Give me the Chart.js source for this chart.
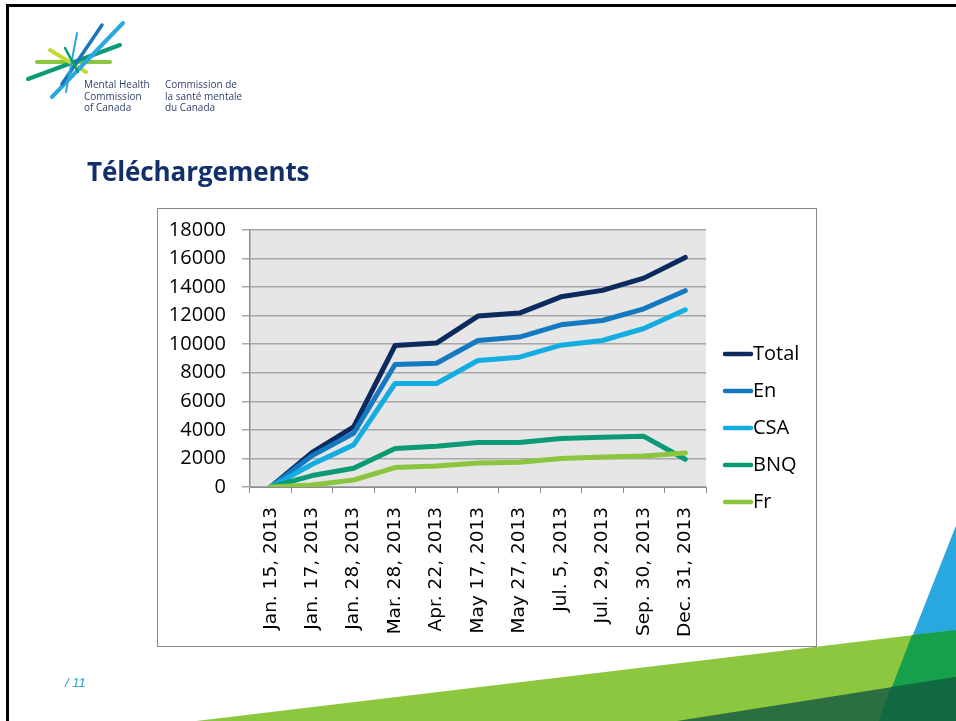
<!DOCTYPE html>
<html>
<head>
<meta charset="utf-8">
<script src="https://cdn.jsdelivr.net/npm/chart.js@4.4.0/dist/chart.umd.min.js"></script>
<style>
  body { margin: 0; width: 956px; height: 721px; overflow: hidden; background: #fff; position: relative; font-family: 'Open Sans', sans-serif; }
  #deco { position: absolute; left: 0; top: 0; }
  #frame { position: absolute; left: 6px; top: 4px; width: 970px; height: 740px; border-left: 3px solid #000; border-top: 3px solid #000; }
  .logoText { position: absolute; top: 79px; font-size: 10px; line-height: 11.5px; color: #2f3f6c; white-space: nowrap; }
  #title { position: absolute; left: 87px; top: 153px; font-size: 26px; font-weight: bold; color: #11306a; white-space: nowrap; letter-spacing: -0.1px; }
  #pageNum { position: absolute; left: 65px; top: 675px; font-family: 'Liberation Sans', sans-serif; font-style: italic; font-size: 13px; color: #2a9fd8; }
  #chartBox { position: absolute; left: 157px; top: 208px; width: 658px; height: 437px; border: 1px solid #8a8a8a; background: #fff; }
</style>
</head>
<body>
<canvas id="deco" width="956" height="721"></canvas>
<div id="frame"></div>
<div class="logoText" style="left:84px">Mental Health<br>Commission<br>of Canada</div>
<div class="logoText" style="left:165px">Commission de<br>la santé mentale<br>du Canada</div>
<div id="title">Téléchargements</div>
<div id="pageNum">/ 11</div>
<div id="chartBox"><canvas id="myChart" width="658" height="437"></canvas></div>

<script>
// dates of each download count
const categories = ["Jan. 15, 2013", "Jan. 17, 2013", "Jan. 28, 2013", "Mar. 28, 2013", "Apr. 22, 2013",
  "May 17, 2013", "May 27, 2013", "Jul. 5, 2013", "Jul. 29, 2013", "Sep. 30, 2013", "Dec. 31, 2013"];

const seriesNames = ["Total", "En", "CSA", "BNQ", "Fr"];
const seriesColors = ["#0b2a5e", "#1479c0", "#14ade2", "#0b9a76", "#8cc63f"];

const totalValues = [0, 2430, 4210, 9910, 10080, 11970, 12180, 13320, 13770, 14630, 16080];
const enValues = [0, 2200, 3760, 8580, 8670, 10260, 10500, 11360, 11660, 12480, 13750];
const csaValues = [0, 1590, 2950, 7250, 7250, 8860, 9090, 9930, 10260, 11100, 12410];
const bnqValues = [0, 800, 1310, 2690, 2850, 3110, 3110, 3390, 3480, 3550, 1940];
const frValues = [0, 140, 490, 1360, 1470, 1680, 1730, 1990, 2100, 2170, 2380];

const yMin = 0;
const yMax = 18000;
const yStep = 2000;

function main() {
  drawDecoration();
  drawChart();
}

//--SLIDE DECORATION------------------------------------------------------------
function drawDecoration() {
  const c = document.getElementById("deco").getContext("2d");

  // logo rays
  const rays = [
    ["#8cc63f", 4, 37, 62, 110, 62],
    ["#0b9a76", 4, 28, 79, 120, 45],
    ["#c7d931", 4, 50, 50, 86, 72],
    ["#29a8e0", 4, 52, 97, 123, 23],
    ["#1b75bb", 3.5, 62, 84, 102, 25],
    ["#29a8e0", 2, 77, 33, 66, 92],
    ["#0b9a76", 2.5, 65, 48, 78, 72],
  ];
  c.lineCap = "round";
  rays.forEach((r) => {
    c.strokeStyle = r[0];
    c.lineWidth = r[1];
    c.beginPath();
    c.moveTo(r[2], r[3]);
    c.lineTo(r[4], r[5]);
    c.stroke();
  });

  // bottom right shapes
  const shapes = [
    ["#29a8e0", [[966, 500], [970, 721], [879, 721]]],
    ["#8dc63f", [[196, 721], [956, 630], [956, 721]]],
    ["#15a049", [[912, 635], [956, 630], [956, 721], [879, 721]]],
    ["#2b6e42", [[677, 721], [956, 677], [956, 721]]],
    ["#116a42", [[891, 687], [956, 677], [956, 721], [879, 721]]],
  ];
  shapes.forEach((s) => {
    c.fillStyle = s[0];
    c.beginPath();
    s[1].forEach((p, i) => (i === 0 ? c.moveTo(p[0], p[1]) : c.lineTo(p[0], p[1])));
    c.closePath();
    c.fill();
  });
}

//--CHART---------------------------------------------------------------------
const plotBackground = {
  id: "plotBackground",
  beforeDraw(chart) {
    const a = chart.chartArea;
    chart.ctx.save();
    chart.ctx.fillStyle = "#e6e6e6";
    chart.ctx.fillRect(a.left, a.top, a.right - a.left, a.bottom - a.top);
    chart.ctx.restore();
  },
};

const sideLegend = {
  id: "sideLegend",
  afterDraw(chart) {
    const c = chart.ctx;
    c.save();
    c.font = '20px "Open Sans"';
    c.textBaseline = "middle";
    chart.data.datasets.forEach((ds, i) => {
      let y = 145 + i * 37;
      c.strokeStyle = ds.borderColor;
      c.lineWidth = 4.5;
      c.lineCap = "round";
      c.beginPath();
      c.moveTo(567, y);
      c.lineTo(593, y);
      c.stroke();
      c.fillStyle = "#000";
      c.fillText(ds.label, 595, y);
    });
    c.restore();
  },
};

function drawChart() {
  const allValues = [totalValues, enValues, csaValues, bnqValues, frValues];
  let myDatasets = [];
  for (let i = 0; i < seriesNames.length; i++) {
    myDatasets.push({
      label: seriesNames[i],
      data: allValues[i],
      borderColor: seriesColors[i],
      backgroundColor: seriesColors[i],
      order: seriesNames.length - i,
    });
  }

  const ctx = document.getElementById("myChart").getContext("2d");
  new Chart(ctx, {
    type: "line",
    data: { labels: categories, datasets: myDatasets },
    options: {
      responsive: false,
      animation: false,
      layout: { padding: { top: 21, right: 110, left: 0, bottom: 0 } },
      plugins: { legend: { display: false }, tooltip: { enabled: false } },
      elements: {
        point: { radius: 0 },
        line: { borderWidth: 5, tension: 0, borderJoinStyle: "round", borderCapStyle: "round" },
      },
      scales: {
        x: {
          offset: true,
          grid: { offset: true, drawOnChartArea: false, tickLength: 6, color: "#8c8c8c" },
          border: { color: "#8c8c8c" },
          ticks: {
            minRotation: 90,
            maxRotation: 90,
            padding: 14,
            color: "#000",
            font: { family: "DejaVu Sans", size: 18.5 },
          },
          afterFit: (s) => {
            s.height = 159;
            s.paddingLeft = 0;
            s.paddingRight = 0;
            s.paddingTop = 0;
            s.paddingBottom = 0;
          },
        },
        y: {
          min: yMin,
          max: yMax,
          ticks: {
            stepSize: yStep,
            padding: 16,
            color: "#000",
            font: { family: "Open Sans", size: 20 },
            callback: (v) => String(v),
          },
          grid: { color: "#a8a8a8", lineWidth: 1.5, tickLength: 8 },
          border: { color: "#8c8c8c", width: 1.5 },
          afterFit: (s) => {
            s.width = 92;
            s.paddingTop = 0;
            s.paddingBottom = 0;
            s.paddingLeft = 0;
            s.paddingRight = 0;
          },
        },
      },
    },
    plugins: [plotBackground, sideLegend],
  });
}

main();
</script>
</body>
</html>
